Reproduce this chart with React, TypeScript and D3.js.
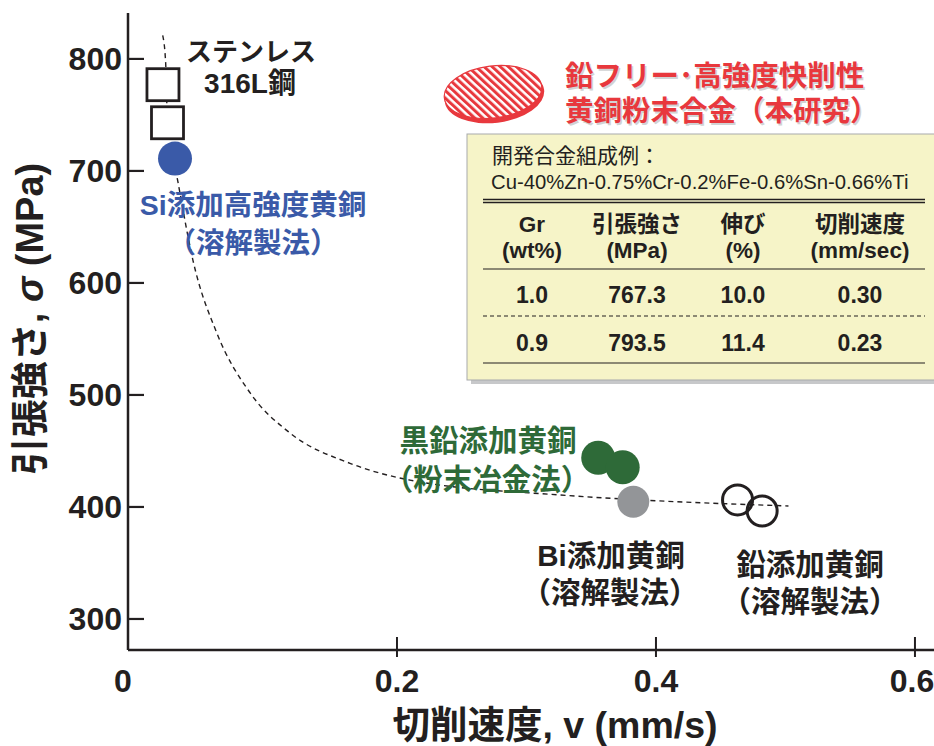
import React from "react";
import * as d3 from "d3";

// ---- data ----
const stainless = [
  { v: 0.0193, s: 777 },
  { v: 0.0228, s: 743 },
];
const siBrass = [{ v: 0.0286, s: 711 }];
const graphiteBrass = [
  { v: 0.3554, s: 444 },
  { v: 0.3743, s: 435.5 },
];
const biBrass = [{ v: 0.3825, s: 404.7 }];
const leadBrass = [
  { v: 0.463, s: 406.3 },
  { v: 0.482, s: 396.4 },
];
const trendCurve = [
  { v: 0.0191, s: 821 },
  { v: 0.0214, s: 796 },
  { v: 0.0228, s: 743 },
  { v: 0.0309, s: 690 },
  { v: 0.0425, s: 620 },
  { v: 0.061, s: 555 },
  { v: 0.0865, s: 502 },
  { v: 0.1174, s: 466 },
  { v: 0.1637, s: 439 },
  { v: 0.21, s: 424 },
  { v: 0.3259, s: 410.7 },
  { v: 0.3876, s: 406.3 },
  { v: 0.5023, s: 400.9 },
];
const xTicks = [0, 0.2, 0.4, 0.6];
const xTickLabels = ["0", "0.2", "0.4", "0.6"];
const yTicks = [300, 400, 500, 600, 700, 800];
const xExtent = [-0.0077, 0.6147];
const yExtent = [272.3, 841];

const tableHeaders1 = ["Gr", "引張強さ", "伸び", "切削速度"];
const tableHeaders2 = ["(wt%)", "(MPa)", "(%)", "(mm/sec)"];
const grWt = ["1.0", "0.9"];
const tensile = ["767.3", "793.5"];
const elongation = ["10.0", "11.4"];
const cutSpeed = ["0.30", "0.23"];

const FONT = "'Liberation Sans', Arial, 'Noto Sans CJK JP', sans-serif";
const INK = "#231f20";
const BLUE = "#3a5aa8";
const GREEN = "#2e6a38";
const GRAY = "#939598";
const RED = "#e8383d";

export default function App() {
  const x = d3.scaleLinear().domain(xExtent).range([128, 934]);
  const y = d3.scaleLinear().domain(yExtent).range([650, 13]);
  const line = d3
    .line<{ v: number; s: number }>()
    .x((d) => x(d.v))
    .y((d) => y(d.s))
    .curve(d3.curveMonotoneX);

  const colX = [532, 637, 743, 860];
  const rows = [0, 1].map((i) => [grWt[i], tensile[i], elongation[i], cutSpeed[i]]);

  return (
    <svg
      width={934}
      height={746}
      style={{ position: "absolute", left: 0, top: 0, background: "#fff" }}
      fontFamily={FONT}
    >
      <defs>
        <pattern id="hatch" width="5.5" height="5.5" patternUnits="userSpaceOnUse" patternTransform="rotate(-40)">
          <rect width="5.5" height="5.5" fill="#fff" />
          <rect width="3" height="5.5" fill={RED} />
        </pattern>
      </defs>

      {/* dashed trend curve */}
      <path d={line(trendCurve) || ""} fill="none" stroke={INK} strokeWidth={1.4} strokeDasharray="5,4" />

      {/* axes */}
      <line x1={x(xExtent[0])} x2={x(xExtent[1])} y1={y(yExtent[0])} y2={y(yExtent[0])} stroke={INK} strokeWidth={2.5} />
      <line x1={x(xExtent[0])} x2={x(xExtent[0])} y1={y(yExtent[0])} y2={y(yExtent[1])} stroke={INK} strokeWidth={2.5} />
      {yTicks.map((t) => (
        <g key={t}>
          <line x1={x(xExtent[0])} x2={x(xExtent[0]) + 16} y1={y(t)} y2={y(t)} stroke={INK} strokeWidth={2.2} />
          <text x={x(xExtent[0]) - 6} y={y(t)} dy="0.36em" textAnchor="end" fontSize={32} fontWeight="bold" fill={INK}>
            {t}
          </text>
        </g>
      ))}
      {xTicks.map((t, i) => (
        <g key={t}>
          {i > 0 && (
            <line x1={x(t)} x2={x(t)} y1={y(yExtent[0]) - 13} y2={y(yExtent[0]) + 7} stroke={INK} strokeWidth={2} />
          )}
          <text
            x={i === 0 ? x(t) - 15 : i === xTicks.length - 1 ? x(t) - 3 : x(t)}
            y={y(yExtent[0]) + 30}
            dy="0.36em"
            textAnchor="middle"
            fontSize={32}
            fontWeight="bold"
            fill={INK}
          >
            {xTickLabels[i]}
          </text>
        </g>
      ))}
      <text x={555} y={724} dy="0.36em" textAnchor="middle" fontSize={37.5} fontWeight="bold" fill={INK}>
        切削速度, v (mm/s)
      </text>
      <text
        transform="translate(29,319) rotate(-90)"
        dy="0.36em"
        textAnchor="middle"
        fontSize={38}
        fontWeight="bold"
        fill={INK}
      >
        引張強さ, <tspan fontStyle="italic">σ</tspan> (MPa)
      </text>

      {/* markers */}
      {stainless.map((d, i) => (
        <rect key={i} x={x(d.v) - 16} y={y(d.s) - 16} width={32} height={32} fill="#fff" stroke={INK} strokeWidth={2.8} />
      ))}
      {siBrass.map((d, i) => (
        <circle key={i} cx={x(d.v)} cy={y(d.s)} r={17} fill={BLUE} />
      ))}
      {graphiteBrass.map((d, i) => (
        <circle key={i} cx={x(d.v)} cy={y(d.s)} r={17} fill={GREEN} />
      ))}
      {biBrass.map((d, i) => (
        <circle key={i} cx={x(d.v)} cy={y(d.s)} r={16} fill={GRAY} />
      ))}
      {leadBrass.map((d, i) => (
        <circle key={i} cx={x(d.v)} cy={y(d.s)} r={15} fill="none" stroke={INK} strokeWidth={3} />
      ))}

      {/* annotations */}
      <g fontWeight="bold" textAnchor="middle" fontSize={26} fill={INK}>
        <text x={251} y={52} dy="0.36em">ステンレス</text>
        <text x={250} y={83} dy="0.36em" fontSize={28}>316L鋼</text>
      </g>
      <g fontWeight="bold" textAnchor="middle" fontSize={28.5} fill={BLUE}>
        <text x={253} y={205} dy="0.36em">Si添加高強度黄銅</text>
        <text x={253} y={243} dy="0.36em">（溶解製法）</text>
      </g>
      <g fontWeight="bold" textAnchor="middle" fontSize={29.5} fill={GREEN}>
        <text x={488} y={440} dy="0.36em">黒鉛添加黄銅</text>
        <text x={487} y={479} dy="0.36em">（粉末冶金法）</text>
      </g>
      <g fontWeight="bold" textAnchor="middle" fontSize={29.5} fill={INK}>
        <text x={611} y={555} dy="0.36em">Bi添加黄銅</text>
        <text x={610} y={592} dy="0.36em">（溶解製法）</text>
        <text x={810} y={564} dy="0.36em">鉛添加黄銅</text>
        <text x={810} y={601} dy="0.36em">（溶解製法）</text>
      </g>

      {/* red disc + title */}
      <g transform="translate(493,92) rotate(-7)">
        <ellipse cx={1} cy={4} rx={50} ry={27} fill={RED} />
        <ellipse cx={0} cy={0} rx={49} ry={26} fill="url(#hatch)" stroke={RED} strokeWidth={1.2} />
      </g>
      <g fontWeight="bold" fontSize={28.5} fill={RED}>
        <text x={565} y={76} dy="0.36em" fill="#d1d3d4" transform="translate(1.5,1.5)">鉛フリー･高強度快削性</text>
        <text x={565} y={111} dy="0.36em" fill="#d1d3d4" transform="translate(1.5,1.5)">黄銅粉末合金（本研究）</text>
        <text x={565} y={76} dy="0.36em">鉛フリー･高強度快削性</text>
        <text x={565} y={111} dy="0.36em">黄銅粉末合金（本研究）</text>
      </g>

      {/* table */}
      <rect x={471} y={138} width={470} height={246} fill="#c7c8ca" />
      <rect x={467} y={134} width={470} height={246} fill="#f6f4c8" stroke="#a7a9ac" strokeWidth={1} />
      <text x={492} y={155} dy="0.36em" fontSize={21} fill={INK}>開発合金組成例：</text>
      <text x={491} y={182} dy="0.36em" fontSize={20.3} fill={INK}>Cu-40%Zn-0.75%Cr-0.2%Fe-0.6%Sn-0.66%Ti</text>
      <line x1={483} x2={925} y1={199.5} y2={199.5} stroke={INK} strokeWidth={1.3} />
      <line x1={483} x2={925} y1={202.5} y2={202.5} stroke={INK} strokeWidth={1.3} />
      <line x1={483} x2={925} y1={269} y2={269} stroke={INK} strokeWidth={1.2} />
      <line x1={483} x2={925} y1={316} y2={316} stroke={INK} strokeWidth={1} strokeDasharray="4,3" />
      <line x1={483} x2={925} y1={363} y2={363} stroke={INK} strokeWidth={1.2} />
      <g fontWeight="bold" textAnchor="middle" fill={INK}>
        {tableHeaders1.map((h, i) => (
          <text key={h} x={colX[i]} y={224} dy="0.36em" fontSize={22.5}>{h}</text>
        ))}
        {tableHeaders2.map((h, i) => (
          <text key={h} x={colX[i]} y={250} dy="0.36em" fontSize={22.5}>{h}</text>
        ))}
        {rows.map((r, j) =>
          r.map((c, i) => (
            <text key={j + "-" + i} x={colX[i]} y={j === 0 ? 295 : 343} dy="0.36em" fontSize={23}>{c}</text>
          ))
        )}
      </g>
    </svg>
  );
}
